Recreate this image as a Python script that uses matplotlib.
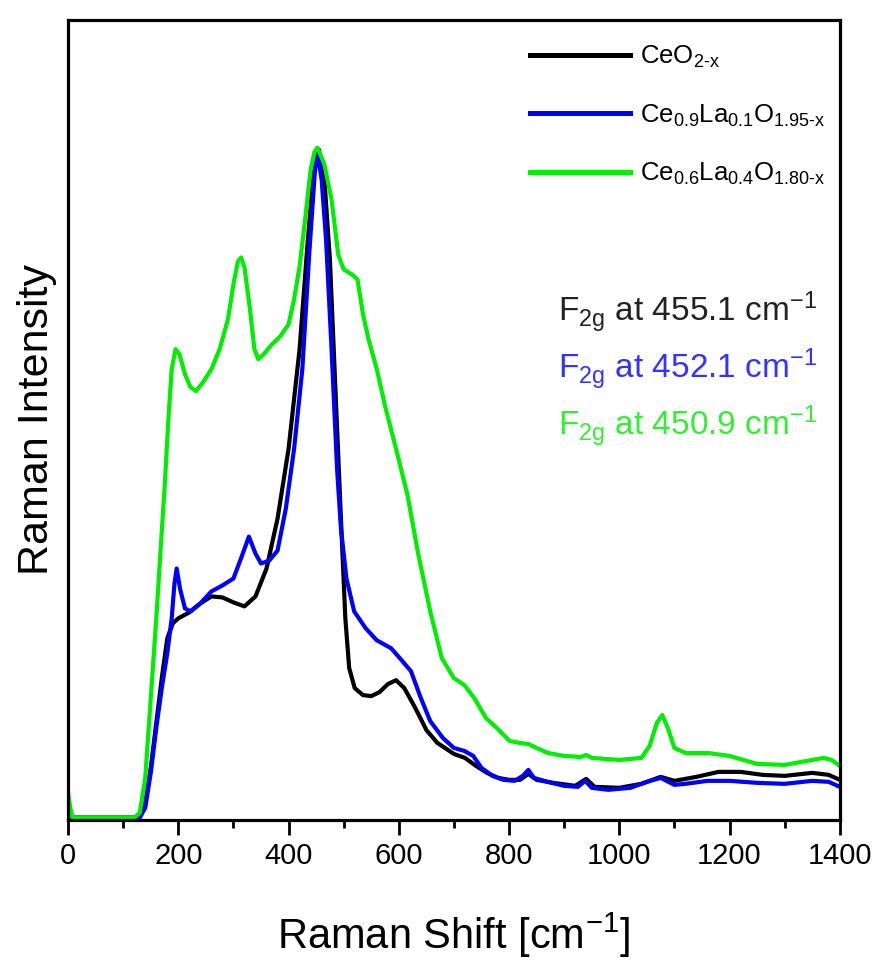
import matplotlib
matplotlib.use("Agg")
import matplotlib.pyplot as plt
from matplotlib.ticker import MultipleLocator

plt.rcParams["font.family"] = ["Liberation Sans", "DejaVu Sans"]
plt.rcParams["mathtext.fontset"] = "custom"
plt.rcParams["mathtext.rm"] = "Liberation Sans"
plt.rcParams["mathtext.it"] = "Liberation Sans"

# Raman spectra (arbitrary intensity units)
x_ceo2 = [0, 50, 100, 120, 130, 140, 150, 160, 170, 180, 190, 200, 220, 240, 260, 280,
          300, 320, 340, 360, 380, 400, 420, 435, 445, 455, 465, 475, 485, 495, 503,
          510, 520, 535, 550, 565, 580, 595, 610, 630, 650, 670, 700, 720, 740, 760,
          780, 800, 820, 835, 850, 880, 920, 940, 955, 1000, 1040, 1075, 1100, 1140,
          1180, 1220, 1260, 1300, 1350, 1380, 1400]
y_ceo2 = [0, 0, 0, 0, 2, 15, 50, 95, 140, 180, 195, 200, 206, 215, 222, 221,
          216, 212, 222, 250, 300, 370, 470, 580, 645, 670, 640, 560, 430, 300, 200,
          150, 130, 123, 122, 126, 134, 138, 130, 110, 88, 75, 64, 60, 52, 45,
          40, 38, 38, 44, 38, 35, 32, 39, 31, 30, 34, 41, 37, 41,
          46, 46, 43, 42, 45, 43, 38]

x_la01 = [0, 50, 100, 130, 140, 150, 160, 170, 180, 188, 193, 197, 203, 212, 222, 240,
          260, 280, 300, 315, 328, 340, 350, 365, 380, 395, 410, 425, 438, 448, 453,
          460, 468, 478, 488, 495, 505, 519, 540, 560, 586, 602, 622, 640, 657, 680,
          700, 719, 735, 750, 770, 790, 810, 825, 835, 845, 870, 900, 925, 938, 950,
          980, 1020, 1050, 1075, 1100, 1120, 1160, 1200, 1250, 1300, 1350, 1380, 1400]
y_la01 = [0, 0, 0, 0, 10, 45, 90, 130, 165, 200, 235, 250, 230, 210, 207, 215,
          227, 233, 240, 262, 282, 265, 255, 258, 268, 310, 370, 450, 570, 650, 665,
          640, 580, 470, 350, 290, 240, 207, 190, 178, 170, 160, 147, 120, 97, 80,
          70, 67, 62, 50, 42, 38, 37, 42, 48, 40, 36, 32, 31, 37, 30,
          28, 30, 36, 40, 33, 34, 37, 37, 35, 34, 37, 36, 31]

x_la04 = [0, 4, 8, 50, 100, 120, 130, 140, 150, 160, 168, 175, 182, 188, 195, 202,
          212, 222, 232, 245, 260, 275, 290, 300, 308, 314, 320, 330, 338, 345, 355,
          370, 385, 400, 410, 420, 430, 440, 447, 452, 458, 465, 478, 490, 500, 515,
          525, 535, 545, 560, 575, 595, 616, 635, 657, 678, 700, 719, 737, 758, 778,
          801, 820, 835, 850, 870, 900, 930, 940, 950, 1000, 1040, 1055, 1068, 1078,
          1088, 1100, 1120, 1160, 1200, 1250, 1300, 1340, 1370, 1385, 1400]
y_la04 = [25, 10, 0, 0, 0, 0, 5, 40, 120, 200, 270, 330, 400, 450, 470, 465,
          445, 432, 428, 437, 450, 470, 500, 535, 558, 562, 552, 510, 470, 460, 465,
          475, 483, 495, 520, 553, 600, 650, 668, 672, 665, 655, 620, 565, 550, 545,
          540, 505, 480, 450, 413, 370, 323, 265, 207, 160, 140, 133, 120, 100, 90,
          77, 75, 74, 70, 65, 62, 61, 63, 60, 58, 60, 72, 95, 103,
          90, 70, 65, 65, 62, 54, 53, 57, 60, 58, 52]

labels = [r"CeO$_{\mathrm{2\text{-}x}}$",
          r"Ce$_{\mathrm{0.9}}$La$_{\mathrm{0.1}}$O$_{\mathrm{1.95\text{-}x}}$",
          r"Ce$_{\mathrm{0.6}}$La$_{\mathrm{0.4}}$O$_{\mathrm{1.80\text{-}x}}$"]
peak_pos = ["455.1", "452.1", "450.9"]
colors = ["black", "#0000ff", "#00ee00"]
text_colors = ["#222222", "#3333ff", "#33ee33"]

fig = plt.figure(figsize=(8.84, 9.61), dpi=100)
ax = fig.add_axes([0.077, 0.147, 0.873, 0.832])

series = [(x_ceo2, y_ceo2), (x_la01, y_la01), (x_la04, y_la04)]
for (xs, ys), c, lab in zip(series, colors, labels):
    ax.plot(xs, ys, color=c, lw=3.0, label=lab)

ax.set_xlim(0, 1400)
ax.set_ylim(-2, 800)
ax.xaxis.set_major_locator(MultipleLocator(200))
ax.xaxis.set_minor_locator(MultipleLocator(100))
ax.tick_params(axis="x", which="major", direction="out", length=11, width=2, labelsize=21, pad=5)
ax.tick_params(axis="x", which="minor", direction="out", length=6, width=2)
ax.set_yticks([])
for sp in ax.spines.values():
    sp.set_linewidth(2.3)

ax.set_xlabel(r"Raman Shift [cm$^{\mathrm{-1}}$]", fontsize=30, labelpad=29)
ax.set_ylabel("Raman Intensity", fontsize=31, labelpad=8)

leg = ax.legend(loc="upper left", frameon=False, fontsize=18.5, handlelength=3.9,
                labelspacing=1.25, handletextpad=0.4, borderpad=0, borderaxespad=0,
                bbox_to_anchor=(0.598, 0.97))
for ln in leg.get_lines():
    ln.set_linewidth(3.6)

for i, (pp, tc) in enumerate(zip(peak_pos, text_colors)):
    ax.text(0.635, 0.623 - i * 0.0712, r"F$_{\mathrm{2g}}$ at " + pp + r" cm$^{\mathrm{-1}}$",
            transform=ax.transAxes, color=tc, fontsize=24)

fig.savefig("out.png", dpi=100)
